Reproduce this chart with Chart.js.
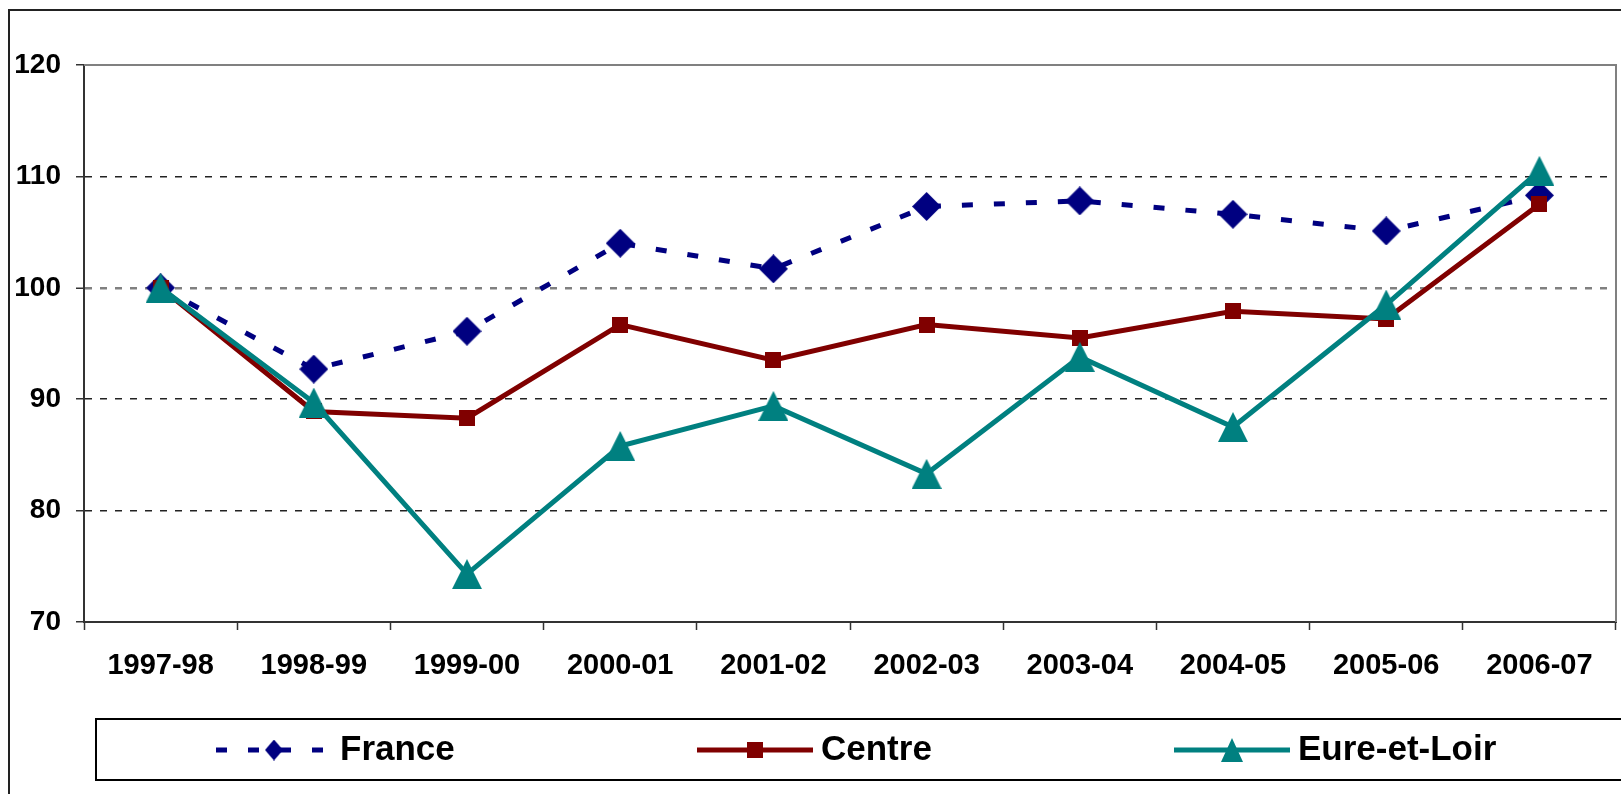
<!DOCTYPE html>
<html>
<head>
<meta charset="utf-8">
<script src="https://cdn.jsdelivr.net/npm/chart.js@4.4.0/dist/chart.umd.min.js"></script>
<style>
  html, body { margin: 0; padding: 0; background: #fff; }
  #wrap { width: 1621px; height: 794px; }
</style>
</head>
<body>
<div id="wrap"><canvas id="chart" width="1621" height="794"></canvas></div>
<script>
// --- data ---
const categories = ["1997-98", "1998-99", "1999-00", "2000-01", "2001-02",
                    "2002-03", "2003-04", "2004-05", "2005-06", "2006-07"];
const franceValues = [100, 92.7, 96.1, 104.0, 101.7, 107.3, 107.8, 106.6, 105.1, 108.3];
const centreValues = [100, 88.9, 88.3, 96.7, 93.5, 96.7, 95.5, 97.9, 97.2, 107.5];
const eureValues   = [100, 89.7, 74.3, 85.8, 89.4, 83.3, 93.8, 87.5, 98.5, 110.5];
const seriesNames  = ["France", "Centre", "Eure-et-Loir"];
const yTickValues  = [70, 80, 90, 100, 110, 120];

const NAVY = "#000080", MAROON = "#800000", TEAL = "#008080";
const FONT = "'Liberation Sans', Arial, sans-serif";

// small canvases used as marker glyphs (Excel style shapes)
function marker(shape, w, h, color) {
  const c = document.createElement("canvas");
  c.width = w; c.height = h;
  const g = c.getContext("2d");
  g.fillStyle = color;
  g.beginPath();
  if (shape === "diamond") {
    g.moveTo(w / 2, 0); g.lineTo(w, h / 2); g.lineTo(w / 2, h); g.lineTo(0, h / 2);
  } else if (shape === "triangle") {
    g.moveTo(w / 2, 0); g.lineTo(w, h); g.lineTo(0, h);
  } else {
    g.rect(0, 0, w, h);
  }
  g.closePath();
  g.fill();
  return c;
}

const pointImgs  = [marker("diamond", 29, 29, NAVY), marker("square", 16, 16, MAROON), marker("triangle", 30, 30, TEAL)];
const legendImgs = [marker("diamond", 18, 21, NAVY), marker("square", 16, 16, MAROON), marker("triangle", 22, 24, TEAL)];

// outer frame, plot top/right border and the boxed legend
const decor = {
  id: "decor",
  beforeDraw(chart) {
    const { ctx, width, height } = chart;
    ctx.save();
    ctx.fillStyle = "#fff";
    ctx.fillRect(0, 0, width, height);
    ctx.strokeStyle = "#222";
    ctx.lineWidth = 2;
    ctx.strokeRect(9, 10, width + 40, height + 40);
    ctx.restore();
  },
  beforeDatasetsDraw(chart) {
    const { ctx, chartArea: a } = chart;
    ctx.save();
    ctx.strokeStyle = "#808080";
    ctx.lineWidth = 2;
    ctx.beginPath();
    ctx.moveTo(a.left, a.top);
    ctx.lineTo(a.right, a.top);
    ctx.lineTo(a.right, a.bottom);
    ctx.stroke();
    ctx.restore();
  },
  afterDraw(chart) {
    const { ctx, width } = chart;
    const y = 750;
    const starts = [216, 697, 1174];
    ctx.save();
    ctx.strokeStyle = "#000";
    ctx.lineWidth = 2;
    ctx.strokeRect(96, 719, width, 61);
    chart.data.datasets.forEach((ds, i) => {
      const sx = starts[i];
      ctx.strokeStyle = ds.borderColor;
      ctx.lineWidth = ds.borderWidth;
      ctx.lineCap = "butt";
      ctx.setLineDash(ds.borderDash || []);
      ctx.beginPath();
      ctx.moveTo(sx, y);
      ctx.lineTo(sx + 116, y);
      ctx.stroke();
      ctx.setLineDash([]);
      const img = legendImgs[i];
      ctx.drawImage(img, sx + 58 - img.width / 2, y - img.height / 2);
      ctx.fillStyle = "#000";
      ctx.font = "bold 35px " + FONT;
      ctx.textBaseline = "middle";
      ctx.textAlign = "left";
      ctx.fillText(ds.label, sx + 124, y);
    });
    ctx.restore();
  }
};

const gridColor = (c) => {
  const v = c.tick && c.tick.value;
  if (v === 70 || v === 120) return "rgba(0,0,0,0)";
  return v === 100 ? "#808080" : "#222";
};

new Chart(document.getElementById("chart"), {
  type: "line",
  data: {
    labels: categories,
    datasets: [
      {
        label: seriesNames[0],
        data: franceValues,
        borderColor: NAVY,
        borderWidth: 5,
        borderDash: [11, 21],
        pointStyle: pointImgs[0],
        order: 3
      },
      {
        label: seriesNames[1],
        data: centreValues,
        borderColor: MAROON,
        borderWidth: 5,
        pointStyle: pointImgs[1],
        order: 2
      },
      {
        label: seriesNames[2],
        data: eureValues,
        borderColor: TEAL,
        borderWidth: 5,
        pointStyle: pointImgs[2],
        order: 1
      }
    ]
  },
  options: {
    responsive: false,
    animation: false,
    devicePixelRatio: 1,
    layout: { autoPadding: false, padding: { top: 65, right: 5, bottom: 92, left: 0 } },
    elements: { line: { tension: 0, fill: false }, point: { radius: 15 } },
    clip: false,
    plugins: {
      legend: { display: false },
      tooltip: { enabled: false }
    },
    scales: {
      x: {
        offset: true,
        grid: {
          display: true, drawOnChartArea: false, drawTicks: true, offset: true,
          tickLength: 8, tickColor: "#333", tickWidth: 1.5, tickBorderDash: []
        },
        border: { display: true, color: "#333", width: 2 },
        ticks: {
          color: "#000", padding: 19, maxRotation: 0, autoSkip: false,
          font: { family: FONT, size: 29, weight: "bold" }
        },
        afterFit: (s) => { s.height = 80; }
      },
      y: {
        min: yTickValues[0],
        max: yTickValues[yTickValues.length - 1],
        afterBuildTicks: (s) => { s.ticks = yTickValues.map(v => ({ value: v })); },
        grid: {
          color: gridColor,
          lineWidth: (c) => (c.tick && c.tick.value === 100 ? 2.5 : 1.5),
          tickLength: 8, tickColor: "#333", tickWidth: 1.5, tickBorderDash: []
        },
        border: { display: true, color: "#333", width: 2, dash: [7, 8] },
        ticks: {
          color: "#000", padding: 15,
          font: { family: FONT, size: 28, weight: "bold" }
        },
        afterFit: (s) => { s.width = 84; }
      }
    }
  },
  plugins: [decor]
});
</script>
</body>
</html>
